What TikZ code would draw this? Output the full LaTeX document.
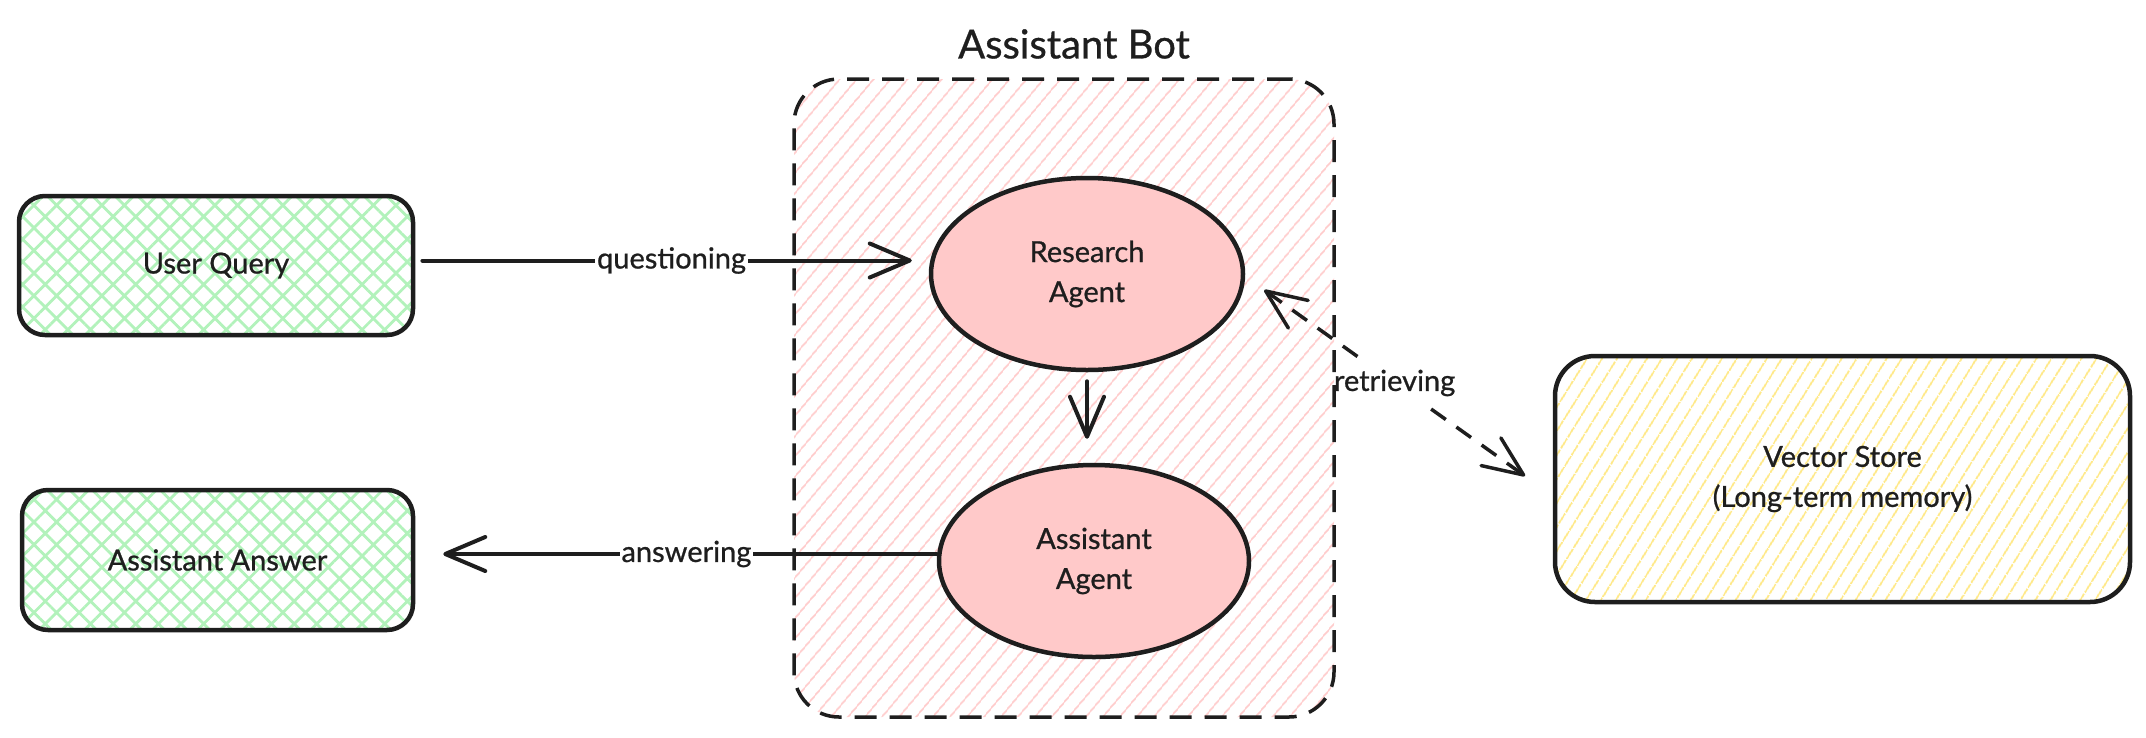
\documentclass[tikz,border=0pt]{standalone}
\usepackage{fontspec}
\setmainfont{Lato}[FakeBold=0.8]
\usetikzlibrary{shapes.geometric,arrows.meta,patterns.meta,calc}
\definecolor{ink}{HTML}{1E1E1E}
\definecolor{grn}{HTML}{B2F2BB}
\definecolor{pnk}{HTML}{FFC9C9}
\definecolor{ylw}{HTML}{FFE98A}
\tikzset{
  txt/.style={font=\fontsize{29}{40}\selectfont, text=ink, align=center},
  greenbox/.style={txt, draw=ink, line width=4.5pt, rounded corners=26pt,
    pattern={Hatch[angle=45,distance=16pt,line width=2.8pt]}, pattern color=grn},
  agent/.style={txt, ellipse, draw=ink, line width=4.5pt, fill=pnk, inner sep=0pt},
  storebox/.style={txt, draw=ink, line width=4.5pt, rounded corners=40pt,
    pattern={Lines[angle=58,distance=13pt,line width=2pt]}, pattern color=ylw},
  botbox/.style={draw=ink, line width=3.5pt, dash pattern=on 22pt off 13pt, rounded corners=45pt,
    pattern={Lines[angle=50,distance=13pt,line width=1.8pt]}, pattern color=pnk},
  lbl/.style={txt, fill=white, inner sep=2pt},
  plainlbl/.style={txt, inner sep=2pt},
  arr/.style={draw=ink, line width=4pt, line cap=round,
    -{Straight Barb[length=40pt,width=34pt,line width=4pt,line cap=round,line join=round]}},
  darr/.style={draw=ink, line width=3.5pt, dash pattern=on 18pt off 13pt},
  barb/.tip={Straight Barb[length=40pt,width=34pt,line width=3.5pt,line cap=round,line join=round]}
}
\begin{document}
\begin{tikzpicture}[x=1pt,y=-1pt]
\useasboundingbox (0,0) rectangle (2146,737);
% container
\node[botbox, minimum width=540pt, minimum height=638pt] (bot) at (1064,398) {};
\node[txt, font=\fontsize{40}{48}\selectfont] (title) at (1074,44) {Assistant Bot};
% nodes
\node[greenbox, minimum width=394pt, minimum height=139pt] (uq) at (216,265.5) {User Query};
\node[greenbox, minimum width=391pt, minimum height=140pt] (an) at (217.5,560) {Assistant Answer};
\node[agent, minimum width=312pt, minimum height=192pt] (ra) at (1087,274) {Research\\Agent};
\node[agent, minimum width=310pt, minimum height=192pt] (aa) at (1094,561) {Assistant\\Agent};
\node[storebox, minimum width=575pt, minimum height=246pt] (vs) at (1842.5,479) {Vector Store\\(Long-term memory)};
% connectors
\draw[arr, shorten <=8pt, shorten >=17pt] ([yshift=5pt]uq.east) -- ([yshift=5pt]uq.east -| ra.west)
  node[lbl, pos=0.5] (q) {questioning};
\draw[arr, shorten >=28pt] ([yshift=7pt]aa.west) -- ([yshift=7pt]aa.west -| an.east)
  node[lbl, pos=0.48] (a) {answering};
\draw[arr, shorten <=9pt, shorten >=24pt] (ra.south) -- (ra.south |- aa.north);
\coordinate (r1) at ([shift={(19,16)}]ra.east);
\coordinate (r2) at ([xshift=-29pt,yshift=3pt]vs.west);
\draw[darr, barb-] (r1) -- ($(r1)!0.36!(r2)$);
\draw[darr, -barb] ($(r1)!0.64!(r2)$) -- (r2);
\node[plainlbl] (rt) at ($(r1)!0.5!(r2)$) {retrieving};
\end{tikzpicture}
\end{document}
